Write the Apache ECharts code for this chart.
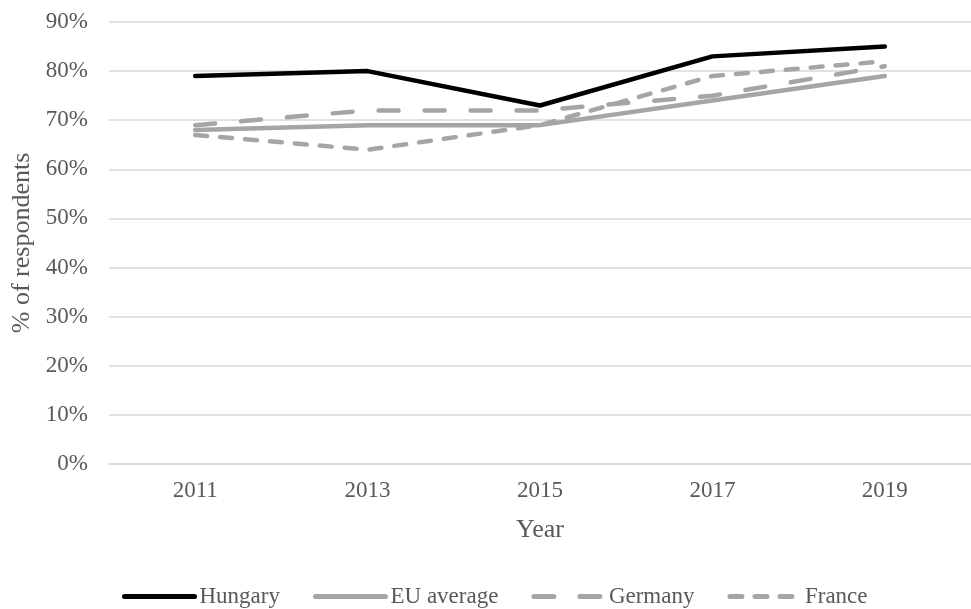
<!DOCTYPE html>
<html>
<head>
<meta charset="utf-8">
<script src="https://cdn.jsdelivr.net/npm/echarts@6/dist/echarts.min.js"></script>
<style>
html,body{margin:0;padding:0;background:#fff;}
#chart{width:971px;height:609px;}
</style>
</head>
<body>
<div id="chart"></div>
<script>
const years = ['2011', '2013', '2015', '2017', '2019'];
const hungary = [79, 80, 73, 83, 85];
const euAverage = [68, 69, 69, 74, 79];
const germany = [69, 72, 72, 75, 81];
const france = [67, 64, 69, 79, 82];
const yTicks = [0, 10, 20, 30, 40, 50, 60, 70, 80, 90];

const font = 'Liberation Serif, Times New Roman, serif';
const txt = '#595959';
const gray = '#a5a5a5';

const chart = echarts.init(document.getElementById('chart'));
function mk(name, data, color, type) {
  return {
    name: name, type: 'line', data: data, symbol: 'none',
    lineStyle: {color: color, width: 4.5, type: type, cap: 'round', join: 'round'},
    itemStyle: {color: color},
    animation: false
  };
}
chart.setOption({
  animation: false,
  grid: {left: 109, top: 22, width: 865, height: 442},
  xAxis: {
    type: 'category', data: years, boundaryGap: true,
    axisLine: {show: true, lineStyle: {color: '#d9d9d9', width: 1.5}},
    axisTick: {show: false},
    axisLabel: {fontFamily: font, fontSize: 23, color: txt, margin: 15},
    name: 'Year', nameLocation: 'middle', nameGap: 53,
    nameTextStyle: {fontFamily: font, fontSize: 26, color: txt}
  },
  yAxis: {
    type: 'value', min: yTicks[0], max: yTicks[yTicks.length - 1], interval: 10,
    axisLine: {show: false}, axisTick: {show: false},
    axisLabel: {fontFamily: font, fontSize: 23, color: txt, margin: 21, formatter: '{value}%'},
    splitLine: {lineStyle: {color: '#d9d9d9', width: 1.5}},
    name: '% of respondents', nameLocation: 'middle', nameGap: 69, nameRotate: 90,
    nameTextStyle: {fontFamily: font, fontSize: 26, color: txt}
  },
  legend: {
    left: 117, top: 580, itemWidth: 70, itemHeight: 14, itemGap: 33,
    itemStyle: {opacity: 0},
    lineStyle: {width: 5, cap: 'round'},
    textStyle: {fontFamily: font, fontSize: 23, color: txt, padding: [0,0,0,0]},
    data: ['Hungary', 'EU average', 'Germany', 'France']
  },
  series: [
    mk('EU average', euAverage, gray, 'solid'),
    mk('Germany', germany, gray, [20, 26]),
    mk('France', france, gray, [12, 13]),
    mk('Hungary', hungary, '#000000', 'solid')
  ]
});
</script>
</body>
</html>
